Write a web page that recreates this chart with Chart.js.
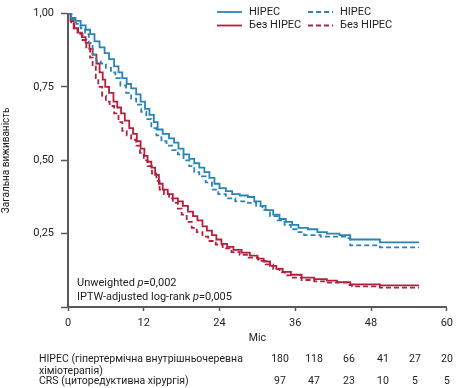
<!DOCTYPE html>
<html>
<head>
<meta charset="utf-8">
<script src="https://cdn.jsdelivr.net/npm/chart.js@4/dist/chart.umd.min.js"></script>
<style>
  html, body { margin: 0; padding: 0; background: #fff; }
  #wrap { width: 459px; height: 388px; position: relative; }
</style>
</head>
<body>
<div id="wrap"><canvas id="km"></canvas></div>
<script>
// Kaplan-Meier curves (months, survival)
const hipecT  = [0, 0.5, 1.2, 2, 2.8, 3.5, 4.2, 5, 5.8, 6.5, 7.3, 8, 8.6, 9.3, 10, 10.8, 11.5, 12.2, 12.9, 13.6, 14.2, 15, 16, 16.8, 17.5, 18.3, 19.2, 20, 20.8, 21.6, 22.4, 23.2, 24, 25, 26, 27.2, 28.5, 29.5, 30.5, 31.3, 32.5, 33.5, 34.5, 35.5, 36.5, 38, 39.5, 41, 43, 44.7, 49.4, 55.6];
const hipecS  = [1, 0.985, 0.975, 0.96, 0.945, 0.93, 0.905, 0.885, 0.865, 0.845, 0.82, 0.8, 0.78, 0.76, 0.745, 0.725, 0.7, 0.675, 0.655, 0.63, 0.605, 0.59, 0.575, 0.56, 0.54, 0.52, 0.505, 0.49, 0.475, 0.46, 0.44, 0.42, 0.405, 0.395, 0.385, 0.38, 0.375, 0.36, 0.345, 0.33, 0.315, 0.3, 0.29, 0.28, 0.27, 0.265, 0.255, 0.25, 0.245, 0.23, 0.22, 0.22];

const hipecWT = [0, 0.6, 1.3, 2, 2.7, 3.3, 3.9, 4.5, 5.2, 6, 6.8, 7.5, 8.3, 9.2, 10, 10.8, 11.6, 12.4, 13.2, 14, 14.8, 15.6, 16.5, 17.4, 18.3, 19.2, 20, 20.8, 21.8, 22.8, 23.8, 25, 26.5, 28.5, 29.8, 30.8, 32, 33.2, 34.3, 35.3, 36.5, 37.4, 40, 44.2, 44.7, 49.4, 55.6];
const hipecWS = [1, 0.98, 0.965, 0.95, 0.93, 0.9, 0.86, 0.84, 0.83, 0.815, 0.8, 0.78, 0.755, 0.73, 0.71, 0.69, 0.665, 0.64, 0.61, 0.585, 0.565, 0.55, 0.535, 0.52, 0.5, 0.48, 0.46, 0.445, 0.425, 0.4, 0.385, 0.37, 0.36, 0.355, 0.345, 0.33, 0.31, 0.295, 0.28, 0.265, 0.255, 0.245, 0.24, 0.235, 0.21, 0.203, 0.203];

const noHipecT  = [0, 0.4, 0.9, 1.5, 2.2, 2.8, 3.4, 3.9, 4.5, 5, 5.5, 5.9, 6.5, 7.2, 7.8, 8.4, 9, 9.7, 10.3, 10.9, 11.5, 12.1, 12.6, 13.2, 13.8, 14.4, 15, 15.8, 16.6, 17.4, 18.2, 19, 19.8, 20.5, 21.3, 22, 22.8, 23.5, 24.3, 25.2, 26.2, 27.5, 28.8, 30, 31, 32, 33, 34, 35.3, 37, 39, 41, 42.6, 44.7, 49.4, 55.6];
const noHipecS  = [1, 0.975, 0.95, 0.935, 0.92, 0.9, 0.88, 0.86, 0.83, 0.8, 0.775, 0.75, 0.73, 0.7, 0.68, 0.66, 0.635, 0.61, 0.59, 0.565, 0.54, 0.515, 0.495, 0.475, 0.45, 0.42, 0.4, 0.385, 0.37, 0.36, 0.345, 0.325, 0.31, 0.295, 0.275, 0.26, 0.245, 0.23, 0.215, 0.205, 0.195, 0.185, 0.175, 0.165, 0.155, 0.14, 0.13, 0.12, 0.11, 0.1, 0.095, 0.09, 0.085, 0.077, 0.074, 0.074];

const noHipecWT = [0, 0.5, 1, 1.6, 2.3, 2.9, 3.5, 3.9, 4.4, 4.8, 5.4, 6, 6.6, 7.3, 8, 8.6, 9.3, 10, 10.8, 11.4, 12, 12.6, 13.3, 14, 14.5, 15.2, 16, 16.6, 17.4, 18, 18.8, 19.6, 20.4, 21.3, 22.2, 23.4, 24.5, 25.9, 27.2, 28.6, 30.1, 31.3, 32.5, 33.5, 34.4, 35.3, 37, 39, 41, 44.2, 45, 49.4, 55.6];
const noHipecWS = [1, 0.97, 0.95, 0.93, 0.91, 0.88, 0.85, 0.82, 0.78, 0.75, 0.72, 0.7, 0.685, 0.66, 0.63, 0.6, 0.585, 0.57, 0.55, 0.525, 0.5, 0.48, 0.455, 0.43, 0.4, 0.385, 0.37, 0.355, 0.335, 0.315, 0.29, 0.27, 0.255, 0.24, 0.225, 0.213, 0.2, 0.187, 0.178, 0.168, 0.157, 0.145, 0.13, 0.118, 0.108, 0.1, 0.092, 0.087, 0.083, 0.075, 0.07, 0.066, 0.066];

const xTicks = [0, 12, 24, 36, 48, 60];
const yTicks = [0.25, 0.5, 0.75, 1];

// numbers at risk
const riskLabels = [['HIPEC (гіпертермічна внутрішньочеревна', 'хіміотерапія)'], ['CRS (циторедуктивна хірургія)']];
const riskHipec = [180, 118, 66, 41, 27, 20];
const riskCrs = [97, 47, 23, 10, 5, 5];

const blue = '#2a84b6';
const red = '#b3203e';
const axisColor = '#595959';
const textColor = '#222';
const font = 'Roboto, "Liberation Sans", sans-serif';

const toPoints = (t, s) => t.map((x, i) => ({ x: x, y: s[i] }));

function curve(label, t, s, color, dashed) {
  return {
    label: label,
    data: toPoints(t, s),
    borderColor: color,
    borderWidth: 1.8,
    borderDash: dashed ? [5, 3] : [],
    pointRadius: 0,
    stepped: true,
    fill: false
  };
}

// legend, p-values and risk table drawn on top
const overlay = {
  id: 'overlay',
  afterDraw(chart) {
    const ctx = chart.ctx;
    ctx.save();
    ctx.fillStyle = textColor;
    ctx.textBaseline = 'middle';

    // legend (two aligned columns)
    const items = [
      { x: 217, y: 12, color: blue, dash: [], text: 'HIPEC' },
      { x: 308, y: 12, color: blue, dash: [5, 3], text: 'HIPEC' },
      { x: 217, y: 25.5, color: red, dash: [], text: 'Без HIPEC' },
      { x: 308, y: 25.5, color: red, dash: [5, 3], text: 'Без HIPEC' }
    ];
    ctx.font = '11px ' + font;
    items.forEach(it => {
      ctx.strokeStyle = it.color;
      ctx.lineWidth = 1.8;
      ctx.setLineDash(it.dash);
      ctx.beginPath();
      ctx.moveTo(it.x, it.y);
      ctx.lineTo(it.x + 25, it.y);
      ctx.stroke();
      ctx.fillText(it.text, it.x + 32, it.y);
    });
    ctx.setLineDash([]);

    // p-values with italic p
    const pLines = [['Unweighted ', '=0,002', 283], ['IPTW-adjusted log-rank ', '=0,005', 297]];
    pLines.forEach(([a, b, y]) => {
      let x = 77;
      ctx.font = '11px ' + font;
      ctx.fillText(a, x, y);
      x += ctx.measureText(a).width;
      ctx.font = 'italic 11px ' + font;
      ctx.fillText('p', x, y);
      x += ctx.measureText('p').width;
      ctx.font = '11px ' + font;
      ctx.fillText(b, x, y);
    });

    // risk table
    ctx.font = '10.5px ' + font;
    ctx.textAlign = 'left';
    ctx.fillText(riskLabels[0][0], 39, 359);
    ctx.fillText(riskLabels[0][1], 39, 371);
    ctx.fillText(riskLabels[1][0], 39, 381);
    ctx.textAlign = 'center';
    const cols = [280, 314, 349, 383, 415, 447];
    riskHipec.forEach((v, i) => ctx.fillText(String(v), cols[i], 359));
    riskCrs.forEach((v, i) => ctx.fillText(String(v), cols[i], 381));
    ctx.restore();
  }
};

new Chart(document.getElementById('km'), {
  type: 'line',
  data: {
    datasets: [
      curve('HIPEC', hipecT, hipecS, blue, false),
      curve('HIPEC (IPTW)', hipecWT, hipecWS, blue, true),
      curve('Без HIPEC', noHipecT, noHipecS, red, false),
      curve('Без HIPEC (IPTW)', noHipecWT, noHipecWS, red, true)
    ]
  },
  options: {
    responsive: true,
    maintainAspectRatio: false,
    animation: false,
    layout: { padding: { top: 7, right: 8, bottom: 43, left: 0 } },
    plugins: {
      legend: { display: false },
      tooltip: { enabled: false }
    },
    scales: {
      x: {
        type: 'linear',
        min: 0,
        max: 60,
        afterBuildTicks: s => { s.ticks = xTicks.map(v => ({ value: v })); },
        afterFit: s => { s.height = 38; },
        grid: { drawOnChartArea: false, drawTicks: true, tickLength: 4, tickColor: axisColor, tickWidth: 1.5 },
        border: { color: axisColor, width: 2 },
        ticks: { color: textColor, font: { family: font, size: 11 }, padding: 6, maxRotation: 0 },
        title: { display: true, text: 'Міс', color: textColor, font: { family: font, size: 10.5 }, padding: { top: 2, bottom: 0 } }
      },
      y: {
        min: 0,
        max: 1,
        afterBuildTicks: s => { s.ticks = [0].concat(yTicks).map(v => ({ value: v })); },
        afterFit: s => { s.width = 68; },
        grid: { drawOnChartArea: false, drawTicks: true, tickLength: 7, tickColor: axisColor, tickWidth: 1.5 },
        border: { color: axisColor, width: 2 },
        ticks: {
          color: textColor,
          font: { family: font, size: 11 },
          padding: 7,
          callback: v => v === 0 ? '' : v.toFixed(2).replace('.', ',')
        },
        title: { display: true, text: 'Загальна виживаність', color: textColor, font: { family: font, size: 10 }, padding: { top: 0, bottom: 2 } }
      }
    }
  },
  plugins: [overlay]
});
</script>
</body>
</html>
